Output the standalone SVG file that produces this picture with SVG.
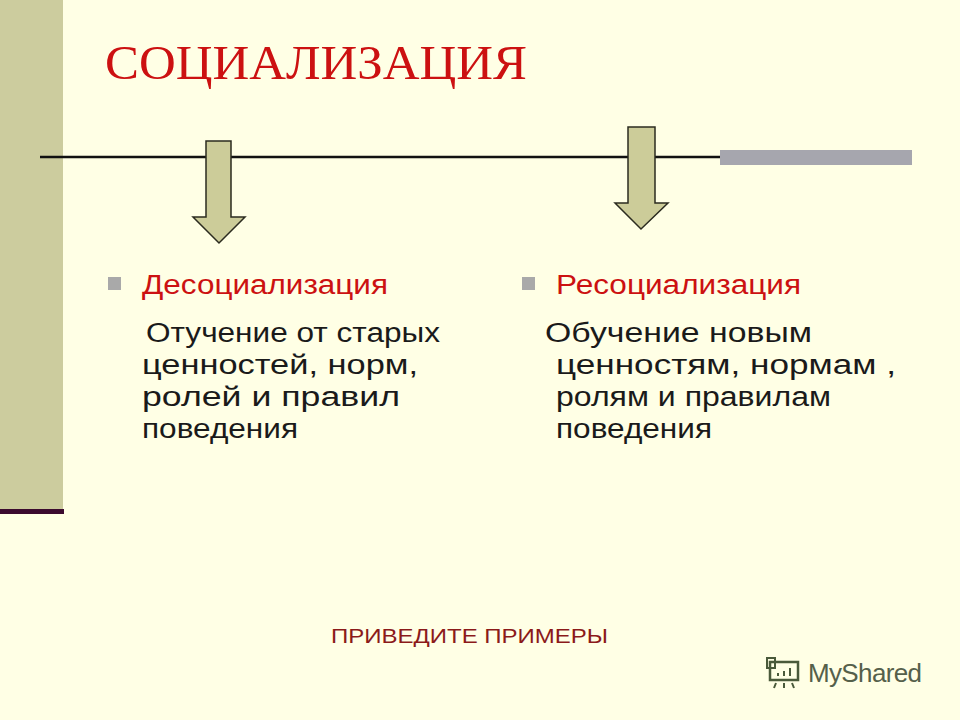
<svg xmlns="http://www.w3.org/2000/svg" width="960" height="720" viewBox="0 0 960 720">
<style>
.arrow{fill:#CCCC99;stroke:#2b2b1f;stroke-width:1.5}
.t{font-family:"Liberation Sans",Arial,sans-serif;font-size:27px;fill:#1a1a1a}
.h{font-family:"Liberation Sans",Arial,sans-serif;font-size:27px;fill:#CC1111}
.b{fill:#A9A9A9}
</style>
<rect width="960" height="720" fill="#FFFFE5"/>
<rect x="0" y="0" width="63" height="510" fill="#CCCC9E"/>
<rect x="0" y="509" width="64" height="5" fill="#3B0A2E"/>
<text x="105" y="79" font-family="Liberation Serif,Times New Roman,serif" font-size="48" fill="#CC1111" textLength="422" lengthAdjust="spacingAndGlyphs">СОЦИАЛИЗАЦИЯ</text>
<g id="connectors">
<line x1="40" y1="157" x2="910" y2="157" stroke="#111" stroke-width="2.5"/>
<rect x="720" y="150" width="192" height="15" fill="#A6A6AE"/>
</g>
<g id="arrow1"><path class="arrow" d="M206 141H231V217H245L219 243L193 217H206Z"/></g>
<g id="arrow2"><path class="arrow" d="M628 127H655V203H668L641 229L615 203H628Z"/></g>
<g id="left">
<rect class="b" x="108" y="277" width="13" height="13"/>
<text class="h" x="142" y="294" textLength="246" lengthAdjust="spacingAndGlyphs">Десоциализация</text>
<text class="t" x="146" y="342" textLength="294" lengthAdjust="spacingAndGlyphs">Отучение от старых</text>
<text class="t" x="142" y="374" textLength="276" lengthAdjust="spacingAndGlyphs">ценностей, норм,</text>
<text class="t" x="142" y="406" textLength="258" lengthAdjust="spacingAndGlyphs">ролей и правил</text>
<text class="t" x="142" y="438" textLength="156" lengthAdjust="spacingAndGlyphs">поведения</text>
</g>
<g id="right">
<rect class="b" x="522" y="277" width="13" height="13"/>
<text class="h" x="556" y="294" textLength="245" lengthAdjust="spacingAndGlyphs">Ресоциализация</text>
<text class="t" x="545" y="342" textLength="267" lengthAdjust="spacingAndGlyphs">Обучение новым</text>
<text class="t" x="556" y="374" textLength="340" lengthAdjust="spacingAndGlyphs">ценностям, нормам ,</text>
<text class="t" x="556" y="406" textLength="275" lengthAdjust="spacingAndGlyphs">ролям и правилам</text>
<text class="t" x="556" y="438" textLength="156" lengthAdjust="spacingAndGlyphs">поведения</text>
</g>
<text x="331" y="643" font-family="Liberation Sans,Arial,sans-serif" font-size="21" fill="#8B1A1A" textLength="277" lengthAdjust="spacingAndGlyphs">ПРИВЕДИТЕ ПРИМЕРЫ</text>
<g id="logo">
<rect x="770" y="662" width="28" height="18" fill="none" stroke="#4a5a3a" stroke-width="2.5"/>
<rect x="767" y="658" width="8" height="10" fill="none" stroke="#4a5a3a" stroke-width="2"/>
<path d="M778 676v-3M784 676v-5M790 676v-8M776 683l-2 5M784 683v5M792 683l2 5" stroke="#4a5a3a" stroke-width="2"/>
<text x="808" y="682" font-family="Liberation Sans,Arial,sans-serif" font-size="26" fill="#55604a" textLength="114">MyShared</text>
</g>
</svg>
